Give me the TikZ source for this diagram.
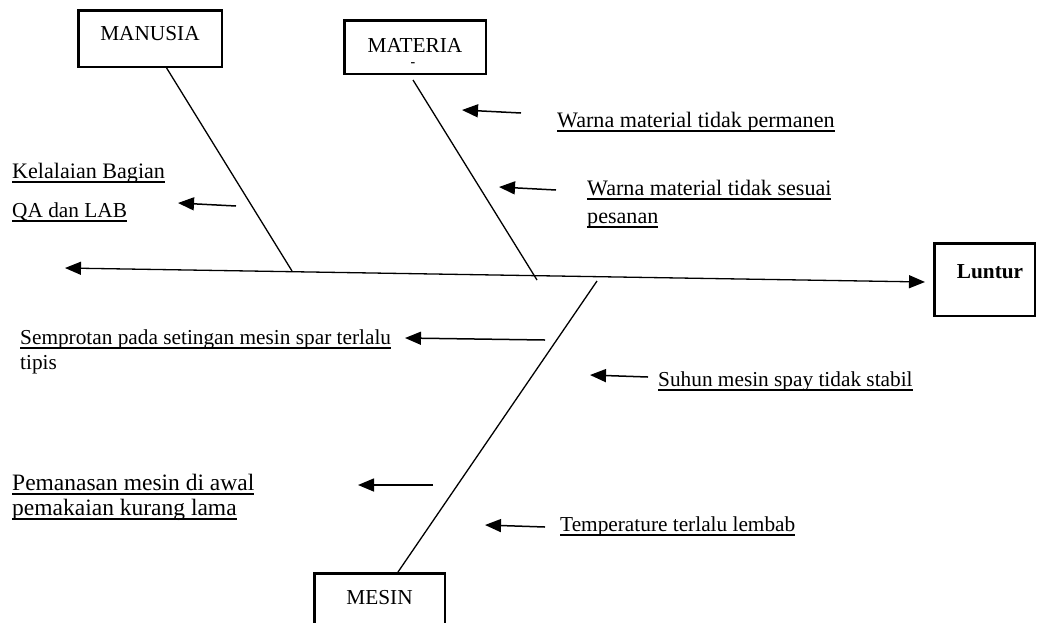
\documentclass[tikz,border=0pt]{standalone}
\usepackage{fontspec}
\setmainfont{Liberation Serif}
\usetikzlibrary{arrows.meta}
\newcommand\myuline[1]{\setbox0\hbox{#1}\rlap{\rule[-4.5pt]{\wd0}{1.1pt}}\box0}
\begin{document}
\begin{tikzpicture}[x=1pt,y=-1pt,
  font=\fontsize{21.3}{25}\selectfont,
  lbl/.style={anchor=base west, inner sep=0pt},
  ttl/.style={anchor=base, inner sep=0pt},
  frame/.style={draw, line width=2.5pt, inner sep=0pt},
  bone/.style={line width=1.3pt},
  cause/.style={line width=1.5pt, -{Triangle[length=16pt,width=13pt]}},
  big/.style={font=\fontsize{22.1}{26}\selectfont},
  bigger/.style={font=\fontsize{23.5}{28}\selectfont}]
\useasboundingbox (0,0) rectangle (1038,622);

% boxes
\node[frame, minimum width=143.5pt, minimum height=56.5pt] (manbox) at (150,38.5) {};
\node[ttl] (mantxt) at (150,40) {MANUSIA};
\node[frame, minimum width=141.5pt, minimum height=53.5pt] (matbox) at (415,47) {};
\node[ttl] (mattxt) at (415,52) {MATERIA};
\node[ttl, font=\fontsize{14}{14}\selectfont\bfseries] (matdash) at (413,66) {-};
\node[frame, minimum width=100.5pt, minimum height=72.5pt] (lunbox) at (984.5,279.5) {};
\node[ttl, font=\fontsize{21.3}{25}\selectfont\bfseries] (luntxt) at (990,278) {Luntur};
\draw[line width=2.5pt] (314.25,630) -- (314.25,573.25) -- (444.75,573.25) -- (444.75,630);
\node[ttl] (mestxt) at (379.5,604) {MESIN};

% spine
\coordinate (sl) at (65,268);
\coordinate (sr) at (925,282);
\draw[bone, {Triangle[length=16pt,width=13pt]}-{Triangle[length=16pt,width=13pt]}] (sl) -- (sr);

% bones
\coordinate (m1) at (166,67);
\coordinate (m2) at (292,271);
\draw[bone] (m1) -- (m2);
\coordinate (t1) at (413,80);
\coordinate (t2) at (537,280);
\draw[bone] (t1) -- (t2);
\coordinate (s1) at (597,281);
\coordinate (s2) at (398,572);
\draw[bone] (s1) -- (s2);

% cause arrows
\coordinate (a1s) at (521,113); \coordinate (a1e) at (462,110);
\draw[cause] (a1s) -- (a1e);
\coordinate (a2s) at (556,190); \coordinate (a2e) at (499,187);
\draw[cause] (a2s) -- (a2e);
\coordinate (a3s) at (236,206); \coordinate (a3e) at (178,203);
\draw[cause] (a3s) -- (a3e);
\coordinate (a4s) at (545,340); \coordinate (a4e) at (405,338);
\draw[cause] (a4s) -- (a4e);
\coordinate (a5s) at (648,377); \coordinate (a5e) at (590,375);
\draw[cause] (a5s) -- (a5e);
\coordinate (a6s) at (433,485); \coordinate (a6e) at (358,485);
\draw[cause] (a6s) -- (a6e);
\coordinate (a7s) at (545,527); \coordinate (a7e) at (485,525);
\draw[cause] (a7s) -- (a7e);

% texts
\node[lbl, big] (c1) at (557,127) {\myuline{Warna material tidak permanen}};
\node[lbl, big] (c2a) at (587,195) {\myuline{Warna material tidak sesuai}};
\node[lbl, big] (c2b) at (587,223) {\myuline{pesanan}};
\node[lbl, big] (c3a) at (12,178) {\myuline{Kelalaian Bagian}};
\node[lbl] (c3b) at (12,217) {\myuline{QA dan LAB}};
\node[lbl] (c4a) at (20,344) {\myuline{Semprotan pada setingan mesin spar terlalu}};
\node[lbl] (c4b) at (20,369) {tipis};
\node[lbl] (c5) at (658,386) {\myuline{Suhun mesin spay tidak stabil}};
\node[lbl, bigger] (c6a) at (12,490) {\myuline{Pemanasan mesin di awal}};
\node[lbl, bigger] (c6b) at (12,515) {\myuline{pemakaian kurang lama}};
\node[lbl] (c7) at (560,531) {\myuline{Temperature terlalu lembab}};
\end{tikzpicture}
\end{document}
